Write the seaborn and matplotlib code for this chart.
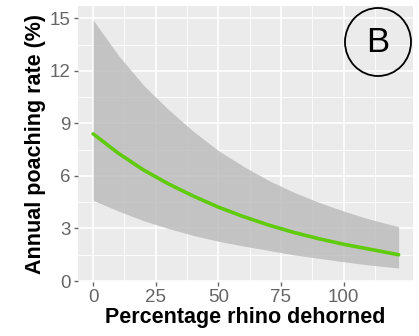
import numpy as np
import pandas as pd
import matplotlib
matplotlib.use('Agg')
import matplotlib.pyplot as plt
from matplotlib.patches import Ellipse
import seaborn as sns

# --- DATA ---
pct_dehorned = [0, 10, 20, 30, 40, 50, 60, 70, 80, 90, 100, 110, 122]
poach_rate = [8.4, 7.3, 6.35, 5.55, 4.85, 4.22, 3.68, 3.2, 2.78, 2.42, 2.1, 1.83, 1.5]
ci_upper = [14.9, 12.9, 11.2, 9.8, 8.55, 7.45, 6.55, 5.75, 5.08, 4.5, 4.0, 3.55, 3.1]
ci_lower = [4.6, 4.0, 3.45, 3.0, 2.6, 2.27, 2.0, 1.75, 1.5, 1.3, 1.1, 0.92, 0.74]
x_ticks = [0, 25, 50, 75, 100]
y_ticks = [0, 3, 6, 9, 12, 15]

df = pd.DataFrame({'pct': pct_dehorned, 'rate': poach_rate,
                   'lo': ci_lower, 'hi': ci_upper})

sns.set_theme(style='darkgrid', rc={
    'axes.facecolor': '#EBEBEB',
    'grid.color': 'white',
})
plt.rcParams['font.family'] = ['Liberation Sans', 'DejaVu Sans']

fig = plt.figure(figsize=(4.19, 3.36), dpi=100)
ax = fig.add_axes([0.186, 0.161, 0.80, 0.821])

# minor grid like ggplot
ax.set_xticks([12.5, 37.5, 62.5, 87.5, 112.5], minor=True)
ax.set_yticks([1.5, 4.5, 7.5, 10.5, 13.5], minor=True)
ax.grid(which='minor', color='white', linewidth=0.6)
ax.grid(which='major', color='white', linewidth=1.2)

ax.fill_between(df['pct'], df['lo'], df['hi'], color='#BDBDBD', alpha=0.85,
                linewidth=0, zorder=2)
sns.lineplot(data=df, x='pct', y='rate', color='#5FCB0A', linewidth=2.6,
             ax=ax, zorder=3)

ax.set_xlim(-6.1, 127.8)
ax.set_ylim(-0.05, 15.7)
ax.set_xticks(x_ticks)
ax.set_yticks(y_ticks)
ax.tick_params(axis='both', which='major', length=3, width=1, color='#666666',
               labelsize=13.5, labelcolor='#666666', pad=2, bottom=True, left=True)
ax.tick_params(which='minor', length=0)
for s in ax.spines.values():
    s.set_visible(False)

ax.set_xlabel('Percentage rhino dehorned', fontsize=15.5, fontweight='bold',
              color='black', labelpad=1)
ax.set_ylabel('Annual poaching rate (%)', fontsize=15.5, fontweight='bold',
              color='black', labelpad=3)

# panel tag
circ = Ellipse((378 / 419, 1 - 42 / 336), 66 / 419, 68 / 336,
               transform=fig.transFigure, fill=False, edgecolor='black',
               linewidth=1.3, zorder=10)
fig.patches.append(circ)
fig.text(378 / 419, 1 - 42 / 336, 'B', ha='center', va='center',
         fontsize=25, color='black')

fig.savefig('out.png', dpi=100)
